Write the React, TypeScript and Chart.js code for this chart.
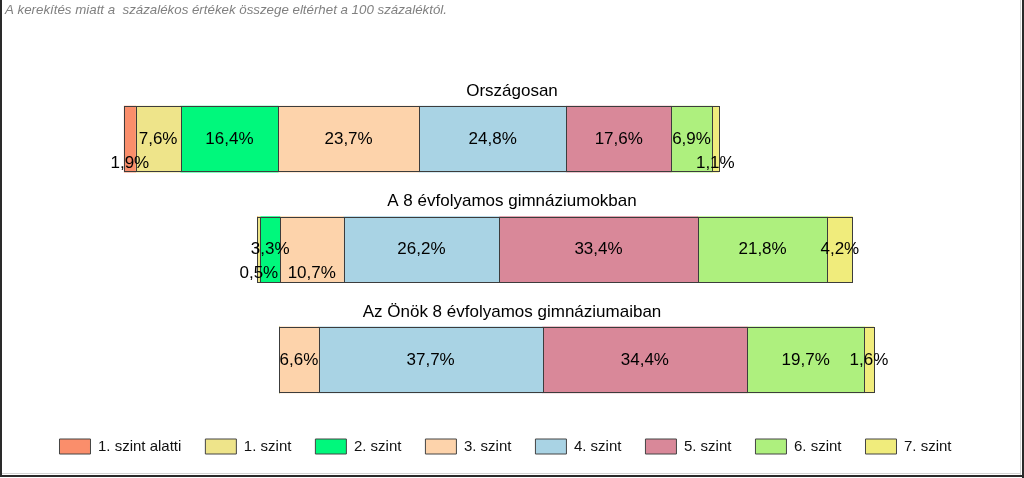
import React, { useEffect, useRef } from "react";
import { Chart, registerables } from "chart.js";

Chart.register(...registerables);

const FONT = "'Liberation Sans', Arial, sans-serif";

const groups = ["Országosan", "A 8 évfolyamos gimnáziumokban", "Az Önök 8 évfolyamos gimnáziumaiban"];
const levels = ["1. szint alatti", "1. szint", "2. szint", "3. szint", "4. szint", "5. szint", "6. szint", "7. szint"];
const levelColors = ["#FA8E6B", "#EEE48A", "#00F87C", "#FDD3AB", "#A9D3E4", "#D98899", "#AEF07E", "#F0EC7C"];

// invisible shift of each bar (in percentage units)
const shifts = [15.85, 38.25, 41.95];

const below1 = [1.9, 0, 0];
const level1 = [7.6, 0.5, 0];
const level2 = [16.4, 3.3, 0];
const level3 = [23.7, 10.7, 6.6];
const level4 = [24.8, 26.2, 37.7];
const level5 = [17.6, 33.4, 34.4];
const level6 = [6.9, 21.8, 19.7];
const level7 = [1.1, 4.2, 1.6];
const levelValues = [below1, level1, level2, level3, level4, level5, level6, level7];

const footnote = "A kerekítés miatt a  százalékos értékek összege eltérhet a 100 százaléktól.";

const fmt = (v: number) => v.toFixed(1).replace(".", ",") + "%";

const framePlugin = {
  id: "frame",
  beforeDraw(chart: any) {
    const { ctx, width, height } = chart;
    ctx.save();
    ctx.fillStyle = "#ffffff";
    ctx.fillRect(0, 0, width, height);
    ctx.fillStyle = "#2a2a2a";
    ctx.fillRect(0, 0, 2, height - 2);
    ctx.fillRect(width - 2, 0, 2, height);
    ctx.fillRect(0, height - 3, width, 2);
    ctx.fillStyle = "#d4d4d4";
    ctx.fillRect(width - 4, 0, 1, height - 3);
    ctx.fillRect(2, height - 5, width - 6, 1);
    ctx.font = `italic 13.3px ${FONT}`;
    ctx.fillStyle = "#808080";
    ctx.textAlign = "left";
    ctx.textBaseline = "alphabetic";
    ctx.fillText(footnote, 5, 14);
    ctx.restore();
  },
};

const decoPlugin = {
  id: "deco",
  afterDatasetsDraw(chart: any) {
    const { ctx } = chart;
    const yScale = chart.scales.y;
    ctx.save();
    // outlines
    ctx.strokeStyle = "#3c3c3c";
    ctx.lineWidth = 1;
    for (let d = 1; d < chart.data.datasets.length; d++) {
      const meta = chart.getDatasetMeta(d);
      meta.data.forEach((el: any, i: number) => {
        const v = chart.data.datasets[d].data[i];
        if (!v) return;
        const { x, base, y, height } = el.getProps(["x", "base", "y", "height"], true);
        const l = Math.round(Math.min(x, base)) + 0.5;
        const r = Math.round(Math.max(x, base)) + 0.5;
        const t = Math.round(y - height / 2) + 0.5;
        const b = Math.round(y + height / 2) - 0.5;
        ctx.strokeRect(l, t, r - l, b - t);
      });
    }
    // group titles
    ctx.font = `17px ${FONT}`;
    ctx.fillStyle = "#000000";
    ctx.textAlign = "center";
    ctx.textBaseline = "middle";
    groups.forEach((g, i) => {
      const yc = yScale.getPixelForValue(i);
      ctx.fillText(g, chart.width / 2, yc - 48);
    });
    // value labels
    for (let i = 0; i < groups.length; i++) {
      const segs: any[] = [];
      for (let d = 1; d < chart.data.datasets.length; d++) {
        const v = chart.data.datasets[d].data[i];
        if (!v) continue;
        const el = chart.getDatasetMeta(d).data[i];
        const { x, base, y } = el.getProps(["x", "base", "y"], true);
        const text = fmt(v);
        const tw = ctx.measureText(text).width;
        const cx = (x + base) / 2;
        segs.push({ text, cx, y, w: Math.abs(x - base), tw, l: cx - tw / 2, r: cx + tw / 2, row: "mid" });
      }
      const overlaps = (a: any, b: any) => a.r + 2 > b.l;
      segs.forEach((s, k) => {
        const prev = segs[k - 1];
        const next = segs[k + 1];
        if (prev && prev.row === "mid" && overlaps(prev, s)) s.row = "low";
        else if (s.tw > s.w && next && overlaps(s, next) && !(prev && prev.row === "low")) s.row = "low";
      });
      segs.forEach((s) => {
        ctx.fillText(s.text, s.cx, s.row === "low" ? s.y + 24 : s.y);
      });
    }
    ctx.restore();
  },
};

export default function App() {
  const ref = useRef<HTMLCanvasElement | null>(null);
  useEffect(() => {
    if (!ref.current) return;
    const datasets: any[] = [
      {
        label: "shift",
        data: shifts,
        backgroundColor: "rgba(0,0,0,0)",
        borderWidth: 0,
        barThickness: 66,
      },
      ...levels.map((name, k) => ({
        label: name,
        data: levelValues[k],
        backgroundColor: levelColors[k],
        borderWidth: 0,
        barThickness: 66,
      })),
    ];
    const chart = new Chart(ref.current, {
      type: "bar",
      data: { labels: groups, datasets },
      options: {
        indexAxis: "y",
        animation: false,
        responsive: false,
        maintainAspectRatio: false,
        devicePixelRatio: 1,
        events: [],
        layout: { padding: { left: 30, right: 43, top: 84, bottom: 14 } },
        scales: {
          x: { stacked: true, min: 0, max: 160, display: false },
          y: { stacked: true, display: false },
        },
        plugins: {
          tooltip: { enabled: false },
          title: { display: false },
          legend: {
            display: true,
            position: "bottom",
            labels: {
              font: { family: FONT, size: 15 },
              color: "#111111",
              boxWidth: 31,
              boxHeight: 15,
              padding: 24,
              filter: (item: any) => item.datasetIndex > 0,
              generateLabels: (ch: any) =>
                ch.data.datasets.map((ds: any, i: number) => ({
                  text: ds.label,
                  fillStyle: ds.backgroundColor,
                  strokeStyle: "#444444",
                  lineWidth: 1,
                  hidden: false,
                  datasetIndex: i,
                  fontColor: "#111111",
                })),
            },
          },
        },
      },
      plugins: [framePlugin, decoPlugin],
    });
    return () => chart.destroy();
  }, []);
  return (
    <div style={{ position: "absolute", left: 0, top: 0, width: 1024, height: 478 }}>
      <canvas ref={ref} width={1024} height={478} style={{ width: 1024, height: 478 }} />
    </div>
  );
}
